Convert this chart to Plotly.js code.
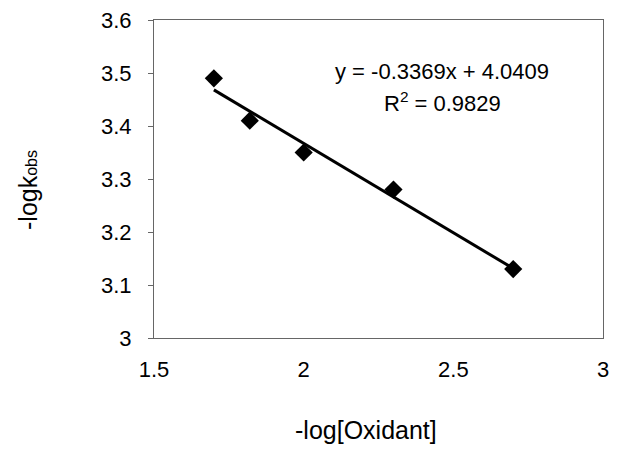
<!DOCTYPE html>
<html>
<head>
<meta charset="utf-8">
<script src="https://cdn.plot.ly/plotly-3.0.1.min.js"></script>
<style>html,body{margin:0;padding:0;background:#fff;}#chart{width:617px;height:461px;}</style>
</head>
<body>
<div id="chart"></div>
<script>
// Data
const xValues = [1.70, 1.82, 2.00, 2.30, 2.70];
const yValues = [3.49, 3.41, 3.35, 3.28, 3.13];
const slope = -0.3369;
const intercept = 4.0409;
const equationText = 'y = -0.3369x + 4.0409';
const r2Text = 'R<sup>2</sup> = 0.9829';
const xTickVals = [1.5, 2, 2.5, 3];
const yTickVals = [3, 3.1, 3.2, 3.3, 3.4, 3.5, 3.6];
const xTitle = '-log[Oxidant]';
const yTitle = '-logk<span style="font-size:16px">obs</span>';

const fitX = [Math.min(...xValues), Math.max(...xValues)];
const fitY = fitX.map(x => slope * x + intercept);

const font = 'Liberation Sans, Arial, sans-serif';

const traces = [
  {x: fitX, y: fitY, mode: 'lines', line: {color: '#000', width: 3}, hoverinfo: 'skip', showlegend: false},
  {x: xValues, y: yValues, mode: 'markers', marker: {symbol: 'diamond', size: 14, color: '#000'}, showlegend: false}
];

const layout = {
  width: 617, height: 461,
  margin: {l: 154, r: 14, t: 20, b: 123},
  paper_bgcolor: '#fff', plot_bgcolor: '#fff',
  font: {family: font, color: '#000', size: 22},
  xaxis: {
    range: [1.5, 3], tickvals: xTickVals, ticktext: xTickVals.map(String),
    showgrid: false, zeroline: false, showline: true, mirror: true,
    linecolor: '#666', linewidth: 1, ticks: '', ticklabelstandoff: 12,
    tickfont: {size: 22, family: font}
  },
  yaxis: {
    range: [3, 3.6], tickvals: yTickVals, ticktext: yTickVals.map(v => String(v)),
    showgrid: false, zeroline: false, showline: true, mirror: true,
    linecolor: '#666', linewidth: 1, ticks: 'outside', ticklen: 5, tickcolor: '#666',
    ticklabelstandoff: 12, tickfont: {size: 22, family: font}
  },
  annotations: [
    {text: equationText, xref: 'paper', yref: 'paper', x: (442 - 154) / 449, y: (338 - 72) / 318, showarrow: false, font: {size: 22, family: font}, xanchor: 'center', yanchor: 'middle'},
    {text: r2Text, xref: 'paper', yref: 'paper', x: (442 - 154) / 449, y: (338 - 102) / 318, showarrow: false, font: {size: 22, family: font}, xanchor: 'center', yanchor: 'middle'},
    {text: xTitle, xref: 'paper', yref: 'paper', x: (366 - 154) / 449, y: -(430 - 338) / 318, showarrow: false, font: {size: 25, family: font}, xanchor: 'center', yanchor: 'middle'},
    {text: yTitle, xref: 'paper', yref: 'paper', x: -(154 - 28) / 449, y: (338 - 190) / 318, showarrow: false, textangle: -90, font: {size: 25, family: font}, xanchor: 'center', yanchor: 'middle'}
  ]
};

Plotly.newPlot('chart', traces, layout, {displayModeBar: false, staticPlot: true});
</script>
</body>
</html>
